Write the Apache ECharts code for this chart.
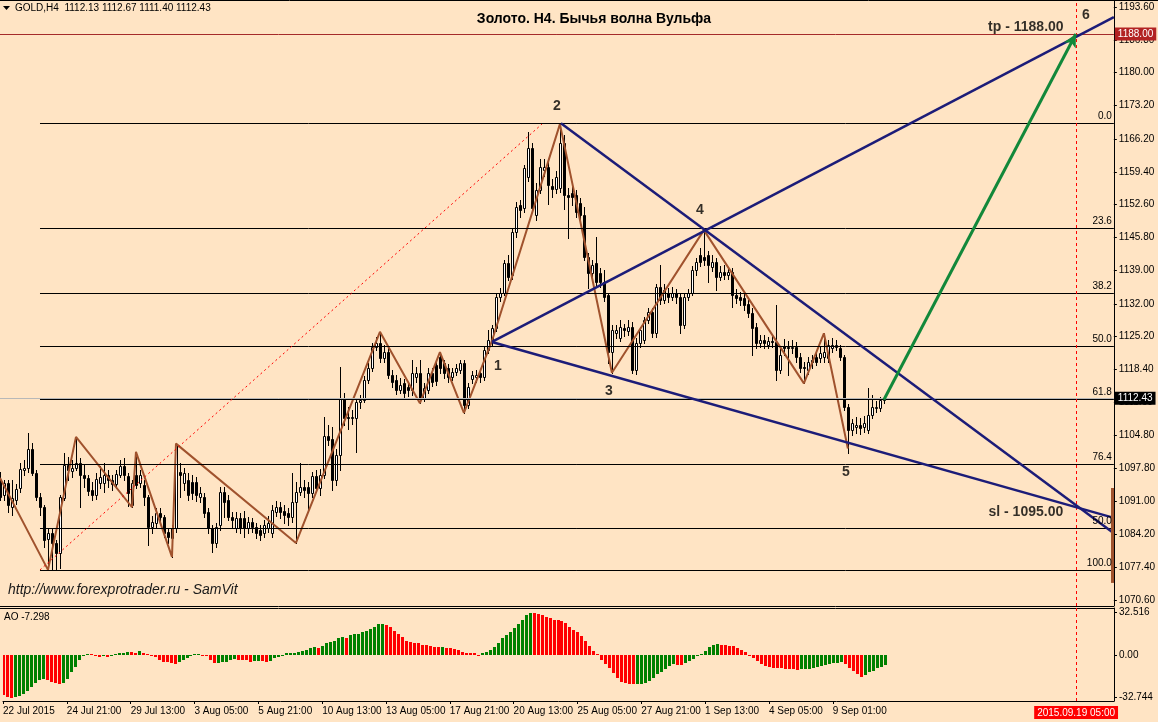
<!DOCTYPE html>
<html>
<head>
<meta charset="utf-8">
<script src="https://cdn.jsdelivr.net/npm/echarts@6/dist/echarts.min.js"></script>
<style>
html,body{margin:0;padding:0;background:#FFE4C4;}
#c{width:1158px;height:722px;}
</style>
</head>
<body>
<div id="c"></div>
<script>
// ---------------- DATA ----------------
const headerText = 'GOLD,H4  1112.13 1112.67 1111.40 1112.43';
const titleText = 'Золото. H4. Бычья волна Вульфа';
const aoLabelText = 'AO -7.298';
const urlText = 'http://www.forexprotrader.ru - SamVit';

const timeLabels = ['22 Jul 2015','24 Jul 21:00','29 Jul 13:00','3 Aug 05:00','5 Aug 21:00','10 Aug 13:00','13 Aug 05:00','17 Aug 21:00','20 Aug 13:00','25 Aug 05:00','27 Aug 21:00','1 Sep 13:00','4 Sep 05:00','9 Sep 01:00'];
const timeLabelBars = [0,16,32,48,64,80,96,112,128,144,160,176,192,208];
const futureBar = 269;
const futureLabel = '2015.09.19 05:00';

const priceTicks = [1193.60,1186.80,1180.00,1173.20,1166.20,1159.40,1152.60,1145.80,1139.00,1132.00,1125.20,1118.40,1111.60,1104.80,1097.80,1091.00,1084.20,1077.40,1070.60];
const aoTicks = [32.516, 0, -32.744];
const aoTickLabels = ['32.516','0.00','-32.744'];

// candles: [open, close, low, high], bar index = position
const candles = [
[1095.2,1091.9,1091.3,1097.1],[1092.4,1094.8,1091.3,1095.5],[1094.8,1090.3,1088.8,1095.5],[1089.8,1091.7,1088.2,1095.4],[1091.3,1093.6,1090.5,1094.6],
[1093.8,1097.7,1093.0,1099.0],[1097.5,1097.9,1096.5,1099.6],[1097.9,1101.9,1097.1,1105.2],[1101.9,1096.9,1096.5,1103.1],[1096.9,1091.9,1091.3,1097.5],
[1091.9,1089.8,1088.2,1092.8],[1089.8,1083.0,1081.5,1090.3],[1083.2,1084.5,1076.8,1085.5],[1084.5,1082.4,1076.9,1085.5],[1082.4,1080.3,1076.8,1083.0],
[1080.3,1091.9,1077.2,1092.4],[1091.7,1098.6,1091.3,1101.1],[1098.6,1097.5,1095.5,1100.2],[1097.3,1097.9,1096.0,1099.6],[1097.9,1099.0,1097.5,1104.4],
[1099.0,1096.5,1089.8,1100.0],[1096.5,1095.9,1094.0,1098.6],[1095.9,1093.2,1092.4,1096.5],[1093.4,1092.4,1091.3,1095.0],[1092.4,1095.7,1091.5,1097.0],
[1094.8,1096.1,1093.8,1098.4],[1094.9,1096.5,1093.0,1099.0],[1096.5,1095.5,1094.0,1097.5],[1095.5,1094.6,1093.4,1096.5],[1094.6,1096.7,1093.8,1097.5],
[1096.5,1098.4,1096.0,1099.6],[1098.4,1096.5,1095.5,1100.0],[1096.3,1092.8,1090.0,1097.0],[1090.3,1094.8,1089.8,1095.5],[1096.5,1094.4,1093.8,1101.3],
[1094.8,1096.5,1094.0,1097.5],[1094.4,1091.9,1090.3,1095.5],[1091.9,1085.7,1082.0,1092.4],[1085.7,1086.7,1084.5,1088.0],[1086.5,1088.6,1085.5,1089.6],
[1088.6,1087.8,1086.5,1089.6],[1087.8,1084.4,1083.6,1088.2],[1084.6,1083.6,1082.4,1085.5],[1083.4,1085.5,1079.5,1086.1],[1085.5,1102.7,1084.6,1103.0],
[1097.1,1096.5,1091.9,1099.0],[1094.8,1096.9,1093.4,1098.0],[1095.5,1092.4,1091.3,1097.0],[1095.0,1092.8,1091.5,1096.5],[1095.0,1092.4,1091.0,1096.0],
[1091.9,1092.8,1090.9,1094.0],[1091.9,1088.6,1087.8,1092.8],[1088.8,1085.5,1084.4,1089.6],[1085.5,1082.4,1080.5,1086.1],[1082.4,1085.7,1081.5,1086.5],
[1086.1,1093.0,1085.1,1094.0],[1093.0,1090.9,1087.8,1094.0],[1091.3,1087.8,1087.1,1092.4],[1087.8,1087.1,1085.7,1088.8],[1085.5,1087.5,1084.6,1088.8],
[1087.5,1085.5,1084.4,1088.6],[1087.5,1085.5,1083.6,1089.0],[1085.5,1086.7,1084.4,1087.8],[1086.7,1085.7,1084.6,1087.5],[1085.7,1084.4,1083.4,1086.5],
[1085.1,1084.1,1083.0,1086.1],[1084.4,1086.1,1083.6,1087.1],[1085.5,1086.5,1084.6,1088.0],[1084.4,1089.2,1083.6,1090.3],[1088.8,1089.8,1088.0,1091.0],
[1089.8,1088.8,1087.5,1090.9],[1089.0,1088.2,1086.5,1090.3],[1088.6,1087.8,1086.1,1089.6],[1087.8,1090.9,1086.7,1096.9],[1090.9,1093.0,1082.4,1095.0],
[1093.0,1094.0,1092.4,1099.0],[1094.0,1093.4,1092.0,1095.5],[1094.0,1092.8,1089.2,1095.0],[1092.8,1096.3,1092.0,1097.1],[1096.3,1093.8,1093.0,1097.5],
[1093.8,1096.5,1092.4,1097.7],[1096.5,1104.6,1095.9,1108.5],[1104.6,1103.8,1102.7,1106.9],[1104.0,1095.5,1093.4,1106.5],[1095.5,1100.6,1094.4,1101.9],
[1100.6,1112.5,1097.5,1118.9],[1112.5,1108.3,1106.9,1113.5],[1108.5,1108.3,1106.0,1110.6],[1108.3,1108.5,1107.1,1110.0],[1108.3,1111.6,1101.3,1112.0],
[1111.6,1112.0,1110.4,1113.1],[1112.0,1116.2,1111.6,1117.0],[1116.2,1118.7,1115.5,1119.7],[1118.7,1123.1,1118.0,1123.9],[1123.1,1123.9,1122.4,1125.1],
[1123.9,1120.8,1120.0,1126.2],[1120.8,1122.0,1120.0,1123.5],[1122.0,1117.2,1116.6,1123.1],[1117.2,1115.8,1114.7,1118.3],[1116.2,1114.1,1113.4,1117.2],
[1114.1,1115.2,1113.5,1116.6],[1115.5,1113.5,1112.5,1116.4],[1114.7,1114.1,1112.9,1115.8],[1114.1,1117.7,1113.1,1120.4],[1116.8,1117.7,1115.8,1118.9],
[1117.7,1112.5,1111.4,1120.4],[1112.5,1114.5,1111.8,1115.5],[1114.1,1117.7,1113.5,1118.7],[1117.7,1115.8,1114.9,1118.7],[1119.3,1116.0,1115.2,1120.0],
[1121.0,1118.7,1117.7,1122.0],[1119.7,1117.7,1116.6,1120.4],[1118.7,1116.8,1115.8,1119.5],[1116.8,1117.9,1116.2,1118.7],[1117.9,1118.7,1117.2,1119.5],
[1118.3,1119.7,1117.7,1120.4],[1119.7,1111.0,1109.4,1120.4],[1111.0,1114.7,1110.4,1115.5],[1116.4,1117.2,1115.5,1118.0],[1116.8,1117.2,1115.8,1118.3],
[1117.7,1116.8,1115.8,1118.5],[1116.8,1122.4,1116.2,1123.1],[1122.4,1124.5,1121.8,1126.5],[1124.3,1126.9,1123.5,1127.6],[1126.9,1133.4,1126.3,1134.0],
[1133.4,1134.3,1132.6,1135.3],[1134.3,1140.4,1133.8,1141.1],[1140.4,1137.6,1136.9,1142.1],[1138.0,1146.9,1137.1,1147.7],[1146.9,1152.1,1145.9,1153.1],
[1152.5,1151.5,1150.0,1153.6],[1151.9,1160.2,1151.0,1160.8],[1158.3,1164.3,1157.5,1167.7],[1164.3,1151.9,1151.5,1165.4],[1150.4,1155.6,1149.4,1157.0],
[1155.6,1160.4,1155.0,1162.0],[1159.8,1160.4,1158.5,1162.0],[1160.4,1156.7,1152.7,1161.8],[1156.5,1155.8,1154.2,1158.0],[1155.8,1158.3,1155.0,1159.6],
[1156.0,1165.4,1155.2,1169.3],[1165.4,1154.6,1151.7,1167.0],[1154.6,1154.2,1145.7,1156.0],[1155.0,1154.2,1152.5,1157.0],[1154.6,1151.1,1150.0,1155.6],
[1152.9,1150.4,1149.6,1154.0],[1150.4,1141.7,1141.0,1152.1],[1141.7,1138.4,1135.3,1142.5],[1138.4,1140.0,1137.6,1141.1],[1140.4,1136.5,1135.9,1145.9],
[1138.4,1136.5,1135.5,1139.4],[1136.5,1133.4,1132.6,1139.0],[1133.8,1122.0,1119.7,1134.0],[1122.0,1126.5,1117.7,1127.6],[1125.9,1126.5,1124.9,1127.6],
[1124.9,1127.2,1124.3,1128.6],[1126.9,1126.5,1125.3,1127.8],[1126.3,1127.2,1125.5,1128.6],[1127.2,1118.3,1117.7,1128.2],[1118.3,1123.9,1117.4,1124.9],
[1123.9,1126.5,1123.1,1127.2],[1124.5,1128.6,1123.9,1129.3],[1128.6,1130.3,1128.0,1131.1],[1130.3,1125.9,1125.1,1131.1],[1125.9,1135.5,1125.1,1136.1],
[1135.5,1132.8,1132.0,1140.0],[1132.8,1134.9,1132.2,1136.1],[1134.3,1133.4,1132.4,1135.3],[1133.4,1134.3,1132.8,1135.5],[1134.3,1133.4,1132.2,1135.1],
[1133.4,1127.6,1125.9,1134.3],[1127.6,1133.4,1127.0,1134.0],[1133.4,1134.3,1132.8,1135.1],[1134.3,1139.0,1133.8,1139.8],[1139.0,1140.7,1138.0,1141.5],
[1142.1,1140.7,1139.8,1143.5],[1141.7,1141.1,1140.0,1147.3],[1142.1,1140.0,1136.5,1143.0],[1139.6,1140.7,1138.8,1142.1],[1140.7,1137.6,1134.9,1141.5],
[1137.6,1138.6,1136.9,1139.8],[1138.6,1138.0,1137.1,1140.0],[1138.0,1138.6,1137.1,1139.6],[1138.6,1133.8,1131.3,1139.4],[1133.8,1133.2,1132.2,1135.1],
[1133.4,1132.8,1131.8,1134.5],[1133.2,1131.8,1130.7,1134.3],[1132.0,1130.1,1129.3,1132.8],[1130.1,1127.0,1121.4,1131.1],[1127.2,1123.9,1122.8,1128.0],
[1123.9,1124.5,1123.1,1125.5],[1124.5,1123.9,1122.8,1125.5],[1123.5,1124.3,1122.8,1125.1],[1124.3,1124.1,1123.0,1125.7],[1124.1,1118.3,1116.2,1131.8],
[1118.3,1121.4,1117.7,1122.6],[1123.3,1122.8,1121.4,1124.7],[1123.1,1122.8,1117.2,1124.3],[1122.8,1123.1,1121.8,1124.5],[1123.1,1121.0,1120.0,1124.1],
[1121.0,1118.7,1117.9,1121.8],[1119.0,1118.7,1115.5,1120.0],[1118.3,1120.0,1117.4,1121.0],[1120.4,1120.0,1118.7,1121.4],[1121.0,1120.0,1119.3,1122.0],
[1120.8,1121.8,1120.0,1123.1],[1121.0,1122.0,1120.0,1125.9],[1120.8,1123.5,1120.0,1124.5],[1122.8,1123.5,1122.0,1124.9],[1123.1,1123.5,1122.4,1124.5],
[1122.8,1121.0,1120.4,1123.5],[1121.0,1110.6,1110.0,1121.4],[1110.6,1105.8,1101.0,1111.2],[1105.8,1107.3,1104.8,1108.1],[1106.5,1106.9,1105.2,1108.5],
[1106.9,1106.3,1105.0,1108.3],[1106.5,1107.3,1105.4,1108.7],[1105.8,1108.9,1105.2,1114.5],[1108.9,1110.6,1108.3,1113.1],[1110.4,1110.6,1109.6,1111.8],
[1110.4,1112.0,1109.8,1112.7],[1112.13,1112.43,1111.40,1112.67]
];

// Awesome Oscillator values, one per bar
const aoValues = [
-30.5,-32.0,-32.744,-32.4,-31.5,-29.6,-27.5,-24.6,-21.8,-19.4,
-18.4,-19.0,-20.7,-21.8,-22.6,-21.8,-18.5,-12.8,-9.0,-4.0,
-0.5,0.8,0.5,-0.5,-1.2,-0.8,-1.3,0.3,1.0,1.5,
1.8,2.2,2.0,1.9,3.0,1.9,1.0,-0.5,-1.8,-3.8,
-5.0,-5.6,-6.0,-6.5,-5.4,-3.5,-2.0,-0.8,0.5,0.9,
0.4,-0.3,-3.8,-5.9,-5.8,-5.1,-5.0,-3.8,-3.3,-3.8,
-3.9,-4.1,-5.1,-4.5,-4.4,-4.7,-5.1,-4.4,-2.6,-1.3,
-0.3,1.3,1.8,1.9,2.6,3.1,3.8,5.5,5.9,5.6,
7.2,9.0,10.0,10.8,12.8,13.6,13.3,15.4,16.1,16.4,
17.4,18.2,20.2,21.9,23.8,24.0,23.0,21.3,18.4,15.9,
13.6,11.0,9.7,9.5,8.9,7.7,7.6,7.2,6.4,5.9,
6.1,5.4,5.3,4.4,3.8,2.6,1.8,1.7,1.3,-0.5,
1.3,2.0,3.8,6.4,9.5,12.8,15.4,17.9,20.5,23.8,
26.9,30.7,32.516,32.3,31.5,30.7,29.4,28.2,26.9,26.7,
26.4,24.3,21.8,19.2,17.4,14.3,10.5,7.2,3.3,0.8,
-3.8,-6.9,-10.2,-14.1,-17.9,-20.5,-21.8,-22.3,-22.5,-22.4,
-22.3,-21.8,-20.0,-17.4,-14.8,-12.8,-10.8,-8.7,-7.2,-7.7,
-8.0,-6.4,-4.4,-2.8,-0.8,0.5,3.3,5.9,7.7,8.2,
8.0,7.7,7.2,6.7,5.6,4.1,2.0,-1.0,-2.3,-4.4,
-6.9,-8.7,-9.2,-9.7,-10.0,-10.3,-10.6,-10.8,-11.0,-11.2,
-11.0,-10.9,-10.6,-10.0,-9.2,-8.4,-7.4,-6.6,-6.1,-5.9,
-5.6,-7.2,-9.7,-12.3,-14.8,-17.2,-15.1,-13.3,-12.0,-10.2,
-9.0,-7.298
];
const aoFirstBarUp = false;

// ZigZag vertices [bar, price]
const zigzag = [[0,1095.9],[12,1076.8],[19,1104.4],[33,1089.8],[34,1101.3],[43,1079.5],[44,1103.0],[74,1082.4],[95,1126.2],[105,1111.4],[110,1122.0],[116,1109.4],[123,1124.3],[140,1169.3],[153,1117.7],[176,1147.3],[201,1115.5],[206,1125.9],[212,1102.0]];

// Fibonacci levels [label, price]
const fibStartBar = 10;
const fibLevels = [['0.0',1169.5],['23.6',1147.6],['38.2',1134.1],['50.0',1123.2],['61.8',1112.2],['76.4',1098.7],['50.0',1085.5],['100.0',1076.8]];
const fibTrend = [[10,1076.8],[135.5,1169.3]];

// Wolfe wave trend lines [[bar, price],[bar, price]]
const wolfeLines = [
  [[123,1124.1],[278.5,1087.6]],
  [[140.25,1169.5],[278.5,1084.4]],
  [[123,1124.1],[278.5,1191.5]]
];
const targetArrow = [[221,1112.1],[269,1188.0]];
const tpPrice = 1188.00;
const bidPrice = 1112.43;
const edgeBar = [[278.1,1093.8],[278.1,1074.1]];

const annotations = [
  {text:'1', x:124.5, y:1119.1},
  {text:'2', x:139.25, y:1173.1},
  {text:'3', x:152.25, y:1113.9},
  {text:'4', x:175, y:1151.5},
  {text:'5', x:211.5, y:1097.1},
  {text:'6', x:271.5, y:1191.9},
  {text:'tp - 1188.00', x:256.5, y:1189.45},
  {text:'sl - 1095.00', x:256.5, y:1088.8}
];

// ---------------- CHART ----------------
const FONT = 'Liberation Sans';
const BG = '#FFE4C4';
const X_MIN = 0, X_MAX = 278.5;
const P_MIN = 1069.31, P_MAX = 1195.05;
const AO_MIN = -35.28, AO_MAX = 36.12;
const NAVY = '#1C1C78';

const chart = echarts.init(document.getElementById('c'), null, {renderer:'canvas', width:1158, height:722, devicePixelRatio:1});

function seg(a, b, style, extra) {
  return [Object.assign({coord:a, lineStyle:style}, extra || {}), {coord:b}];
}

const mainMarkLines = [];
fibLevels.forEach(([lbl, p]) => {
  mainMarkLines.push([{coord:[fibStartBar, p], lineStyle:{color:'#000', width:1, type:'solid'},
    label:{show:true, formatter:lbl, position:'insideEndTop', distance:2, color:'#000', fontSize:10, fontFamily:FONT}},
    {coord:[X_MAX, p]}]);
});
mainMarkLines.push([{coord:[X_MIN, bidPrice], lineStyle:{color:'#B8B8B8', width:1, type:'solid'},
  label:{show:true, position:'end', formatter:bidPrice.toFixed(2), backgroundColor:'#000', color:'#fff', padding:[2,3,1,3], distance:1, fontSize:10, fontFamily:FONT}},
  {coord:[X_MAX, bidPrice]}]);
mainMarkLines.push([{coord:[X_MIN, tpPrice], lineStyle:{color:'#A52A2A', width:1, type:'solid'},
  label:{show:true, position:'end', formatter:tpPrice.toFixed(2), backgroundColor:'#B22222', color:'#fff', padding:[2,3,1,3], distance:1, fontSize:10, fontFamily:FONT}},
  {coord:[X_MAX, tpPrice]}]);
mainMarkLines.push(seg(fibTrend[0], fibTrend[1], {color:'#FF0000', width:1, type:[2,3]}));
mainMarkLines.push(seg([futureBar, P_MIN], [futureBar, P_MAX], {color:'#FF0000', width:1, type:[3,3]}));
wolfeLines.forEach(l => mainMarkLines.push(seg(l[0], l[1], {color:NAVY, width:2.5, type:'solid'})));
mainMarkLines.push(seg(edgeBar[0], edgeBar[1], {color:'#A0522D', width:3, type:'solid'}));
mainMarkLines.push([
  {coord:targetArrow[0], symbol:'none', lineStyle:{color:'#12883A', width:3, type:'solid'}, itemStyle:{color:'#12883A'}},
  {coord:targetArrow[1], symbol:'arrow', symbolSize:[10,13], itemStyle:{color:'#12883A'}}
]);

const option = {
  backgroundColor: BG,
  animation: false,
  textStyle: {fontFamily: FONT},
  grid: [
    {left:0, top:0, width:1114, height:606},
    {left:0, top:608, width:1114, height:93}
  ],
  xAxis: [
    {type:'value', gridIndex:0, min:X_MIN, max:X_MAX, show:false, splitLine:{show:false}, axisLine:{onZero:false}},
    {type:'value', gridIndex:1, min:X_MIN, max:X_MAX, position:'bottom',
      axisLine:{show:true, onZero:false, lineStyle:{color:'#000', width:1}},
      axisTick:{show:true, length:3, customValues:timeLabelBars, lineStyle:{color:'#000'}},
      axisLabel:{show:true, customValues:timeLabelBars, formatter:v => timeLabels[timeLabelBars.indexOf(v)], align:'left', color:'#000', fontSize:10, fontFamily:FONT, margin:5},
      splitLine:{show:false}}
  ],
  yAxis: [
    {type:'value', gridIndex:0, position:'right', min:P_MIN, max:P_MAX,
      axisLine:{show:true, onZero:false, lineStyle:{color:'#000', width:1}},
      axisTick:{show:true, length:3, customValues:priceTicks, lineStyle:{color:'#000'}},
      axisLabel:{show:true, customValues:priceTicks, formatter:v => v.toFixed(2), color:'#000', fontSize:10, fontFamily:FONT, margin:5},
      splitLine:{show:false}},
    {type:'value', gridIndex:1, position:'right', min:AO_MIN, max:AO_MAX,
      axisLine:{show:true, onZero:false, lineStyle:{color:'#000', width:1}},
      axisTick:{show:true, length:3, customValues:aoTicks, lineStyle:{color:'#000'}},
      axisLabel:{show:true, customValues:aoTicks, formatter:v => aoTickLabels[aoTicks.indexOf(v)], color:'#000', fontSize:10, fontFamily:FONT, margin:5},
      splitLine:{show:false}}
  ],
  graphic: [
    {type:'line', silent:true, shape:{x1:0, y1:0.5, x2:1158, y2:0.5}, style:{stroke:'#000', lineWidth:1}},
    {type:'line', silent:true, shape:{x1:0, y1:606.5, x2:1114, y2:606.5}, style:{stroke:'#000', lineWidth:1}},
    {type:'line', silent:true, shape:{x1:0, y1:608.5, x2:1114, y2:608.5}, style:{stroke:'#000', lineWidth:1}},
    {type:'polygon', silent:true, shape:{points:[[3,6],[10,6],[6.5,10]]}, style:{fill:'#000'}},
    {type:'text', silent:true, x:15, y:8, style:{text:headerText, fontSize:10, fontFamily:FONT, fill:'#000', textVerticalAlign:'middle', verticalAlign:'middle'}},
    {type:'text', silent:true, x:594, y:19, style:{text:titleText, fontSize:14, fontWeight:'bold', fontFamily:FONT, fill:'#000', textAlign:'center', align:'center', textVerticalAlign:'middle', verticalAlign:'middle'}},
    {type:'text', silent:true, x:4, y:617, style:{text:aoLabelText, fontSize:10, fontFamily:FONT, fill:'#000', textVerticalAlign:'middle', verticalAlign:'middle'}},
    {type:'text', silent:true, x:8, y:590, style:{text:urlText, fontSize:14, fontStyle:'italic', fontFamily:FONT, fill:'#1a1a1a', textVerticalAlign:'middle', verticalAlign:'middle'}}
  ],
  series: [
    {
      type:'custom', name:'candles', xAxisIndex:0, yAxisIndex:0, clip:true, silent:true, z:2,
      data: candles.map((d, i) => [i, d[0], d[1], d[2], d[3]]),
      encode:{x:0, y:[1,2,3,4]},
      renderItem: (params, api) => {
        const i = api.value(0);
        const o = api.value(1), c = api.value(2), l = api.value(3), h = api.value(4);
        const pO = api.coord([i, o]), pC = api.coord([i, c]), pL = api.coord([i, l]), pH = api.coord([i, h]);
        const cx = Math.round(pO[0]) + 0.5;
        const yT = Math.round(Math.min(pO[1], pC[1])) + 0.5;
        const yB = Math.round(Math.max(pO[1], pC[1])) + 0.5;
        const up = c >= o;
        return {type:'group', children:[
          {type:'line', shape:{x1:cx, y1:Math.round(pH[1]), x2:cx, y2:Math.round(pL[1]) + 1}, style:{stroke:'#000', lineWidth:1}},
          {type:'rect', shape:{x:cx - 1, y:yT, width:2, height:yB - yT}, style:{fill: up ? '#FFFFFF' : '#000000', stroke:'#000', lineWidth:1}}
        ]};
      }
    },
    {
      type:'line', name:'zigzag', xAxisIndex:0, yAxisIndex:0, data:zigzag, symbol:'none', showSymbol:false, silent:true, z:3,
      lineStyle:{color:'#A0522D', width:2},
      markLine:{silent:true, animation:false, symbol:['none','none'], label:{show:false}, emphasis:{disabled:true}, data: mainMarkLines}
    },
    {
      type:'scatter', name:'labels', xAxisIndex:0, yAxisIndex:0, symbolSize:0, silent:true, z:5,
      data: annotations.map(a => ({value:[a.x, a.y], label:{show:true, formatter:a.text, position:'inside', color:'#000', fontSize:14, fontWeight:'bold', fontFamily:FONT}}))
    },
    {
      type:'custom', name:'AO', xAxisIndex:1, yAxisIndex:1, clip:true, silent:true, z:2,
      data: aoValues.map((v, i) => [i, v]),
      encode:{x:0, y:1},
      renderItem: (params, api) => {
        const idx = params.dataIndex;
        const v = api.value(1);
        const up = idx === 0 ? aoFirstBarUp : v > aoValues[idx - 1];
        const p0 = api.coord([api.value(0), 0]);
        const p1 = api.coord([api.value(0), v]);
        const x = Math.round(p0[0]) - 1;
        const y0 = Math.round(p0[1]), y1 = Math.round(p1[1]);
        return {type:'rect', shape:{x:x, y:Math.min(y0, y1), width:3, height:Math.max(1, Math.abs(y1 - y0))}, style:{fill: up ? '#008000' : '#FF0000'}};
      },
      markLine:{silent:true, animation:false, symbol:['none','none'], emphasis:{disabled:true},
        data:[[{coord:[futureBar, AO_MIN], lineStyle:{color:'#FF0000', width:1, type:[3,3]},
                label:{show:true, position:'start', formatter:futureLabel, backgroundColor:'#FF0000', color:'#fff', padding:[2,3,1,3], distance:5, fontSize:10, fontFamily:FONT}},
               {coord:[futureBar, AO_MAX]}]]}
    }
  ]
};
chart.setOption(option);
</script>
</body>
</html>
